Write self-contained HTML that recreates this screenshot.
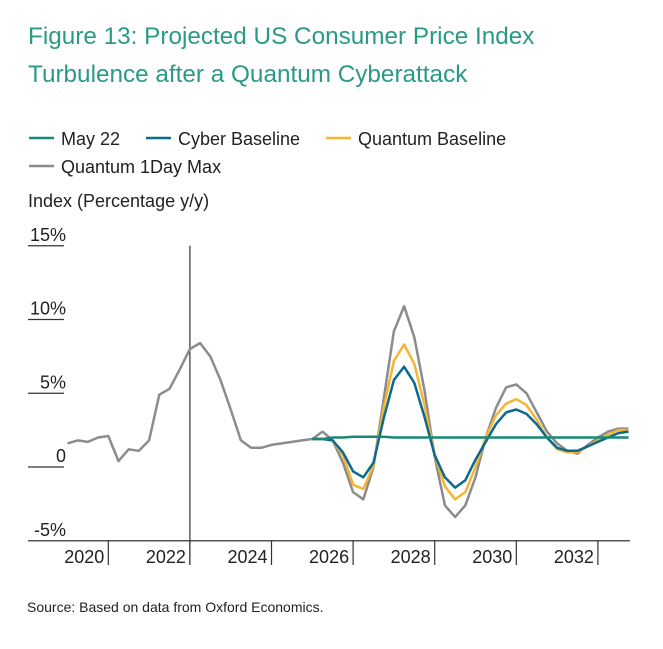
<!DOCTYPE html>
<html><head><meta charset="utf-8"><style>
body{margin:0;background:#fff;width:663px;height:644px;overflow:hidden;font-family:"Liberation Sans",sans-serif}
svg text{font-family:"Liberation Sans",sans-serif}
</style></head><body>
<svg id="chart" width="663" height="644">
<text x="28" y="44" font-size="24.3" fill="#2a9a87">Figure 13: Projected US Consumer Price Index</text>
<text x="28" y="82" font-size="24.3" fill="#2a9a87">Turbulence after a Quantum Cyberattack</text>
<g font-size="18" fill="#222">
<g><line x1="29" y1="138" x2="54" y2="138" stroke="#168a76" stroke-width="2.5"/><text x="61" y="145">May 22</text></g>
<g><line x1="146" y1="138" x2="171" y2="138" stroke="#0b6a8f" stroke-width="2.5"/><text x="178" y="145">Cyber Baseline</text></g>
<g><line x1="326" y1="138" x2="351" y2="138" stroke="#f6b532" stroke-width="2.5"/><text x="358" y="145">Quantum Baseline</text></g>
<g><line x1="29" y1="166" x2="54" y2="166" stroke="#8c8c8c" stroke-width="2.5"/><text x="61" y="173">Quantum 1Day Max</text></g>
</g>
<text x="28" y="207" font-size="18" fill="#222">Index (Percentage y/y)</text>
<g id="axes"></g>
<g id="series"></g>
<text x="27" y="612" font-size="14" fill="#222">Source: Based on data from Oxford Economics.</text>
</svg>
<script>
const yTicks=[15,10,5,0,-5];
const yTickLabels=["15%","10%","5%","0","-5%"];
const yearLabels=["2020","2022","2024","2026","2028","2030","2032"];
const tickYears=[2021,2023,2025,2027,2029,2031,2033];
const startYear=2020;
const gray=[1.6,1.8,1.7,2.0,2.1,0.4,1.2,1.1,1.8,4.9,5.3,6.6,8.0,8.4,7.5,5.9,3.9,1.8,1.3,1.3,1.5,1.6,1.7,1.8,1.9,2.4,1.8,0.3,-1.7,-2.2,0.0,4.6,9.2,10.9,8.8,5.2,0.7,-2.6,-3.4,-2.6,-0.7,2.0,4.0,5.4,5.6,5.0,3.7,2.4,1.6,1.1,0.9,1.5,2.0,2.4,2.6,2.6];
const cyber=[1.9,1.9,1.8,1.0,-0.3,-0.7,0.3,3.3,5.9,6.8,5.7,3.4,0.8,-0.7,-1.4,-0.9,0.5,1.7,2.9,3.7,3.9,3.6,2.9,2.0,1.3,1.1,1.1,1.4,1.7,2.0,2.3,2.4];
const quantum=[1.9,1.9,1.8,0.8,-1.2,-1.5,0.1,4.0,7.2,8.3,7.0,4.2,0.8,-1.3,-2.2,-1.7,0.0,2.0,3.5,4.3,4.6,4.2,3.2,2.0,1.2,1.0,1.0,1.4,1.8,2.2,2.5,2.5];
const may22=[1.9,1.9,2.0,2.0,2.05,2.05,2.05,2.05,2.0,2.0,2.0,2.0,2.0,2.0,2.0,2.0,2.0,2.0,2.0,2.0,2.0,2.0,2.0,2.0,2.0,2.0,2.0,2.0,2.0,2.0,2.0,2.0];
const offset=24;
const NS="http://www.w3.org/2000/svg";
const x=t=>67.5+(t-startYear)*40.8;
const xi=i=>x(startYear+i/4);
const y=v=>467-v*14.75;
const axes=document.getElementById('axes'), series=document.getElementById('series');
function mk(tag,attrs,parent){const e=document.createElementNS(NS,tag);for(const k in attrs)e.setAttribute(k,attrs[k]);parent.appendChild(e);return e;}
yTicks.forEach((v,i)=>{
 if(v!==-5){const l=mk('line',{x1:28,x2:64,y1:y(v),y2:y(v),stroke:'#333','stroke-width':1.2},axes);
 
 }
 const t=mk('text',{x:66,y:y(v)-5,'text-anchor':'end','font-size':18,fill:'#222'},axes);
 t.textContent=yTickLabels[i];
 
 
});
const xa=mk('line',{x1:28,x2:630,y1:y(-5),y2:y(-5),stroke:'#555','stroke-width':1.5},axes);


tickYears.forEach(t=>{const l=mk('line',{x1:x(t),x2:x(t),y1:y(-5),y2:565,stroke:'#333','stroke-width':1.2},axes);
 
 });
yearLabels.forEach((s,i)=>{const t=mk('text',{x:x(+s+1)-4,y:563,'text-anchor':'end','font-size':18,fill:'#222'},axes);
 t.textContent=s;
 
 });
const vl=mk('line',{x1:x(2023),x2:x(2023),y1:y(15),y2:565,stroke:'#333','stroke-width':1.2},axes);


function draw(arr,off,color,name){
 const d=arr.map((v,i)=>(i?'L':'M')+xi(i+off).toFixed(1)+','+y(v).toFixed(1)).join('');
 const p=mk('path',{d:d,fill:'none',stroke:color,'stroke-width':2.5,'stroke-linejoin':'round'},series);
 
 
}
draw(gray,0,'#8c8c8c','line-quantum-1day-max');
draw(quantum,offset,'#f6b532','line-quantum-baseline');
draw(cyber,offset,'#0b6a8f','line-cyber-baseline');
draw(may22,offset,'#168a76','line-may22');
</script>
</body></html>
